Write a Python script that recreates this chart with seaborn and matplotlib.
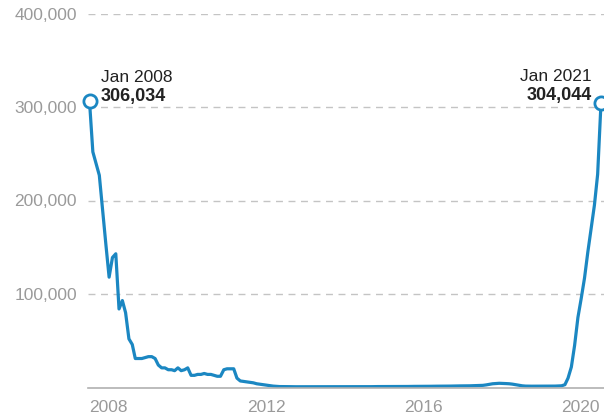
import numpy as np
import pandas as pd
import matplotlib
matplotlib.use("Agg")
import matplotlib.pyplot as plt
import seaborn as sns

# ---- data (monthly, Jan 2008 - Jan 2021) ----
start_month = "2008-01-01"
values = [
    # 2008
    306034, 252000, 240000, 227000, 190000, 153000, 118000, 139000, 143000, 84000, 93000, 80000,
    # 2009
    52000, 46000, 31000, 31000, 31000, 32000, 33000, 33000, 31000, 24000, 21000, 21000,
    # 2010
    19000, 19000, 18000, 21000, 18000, 19000, 21000, 13000, 13000, 14000, 14000, 15000,
    # 2011
    14000, 14000, 13000, 12000, 12000, 19000, 20000, 20000, 20000, 10000, 7000, 6500,
    # 2012
    6000, 5500, 5000, 4000, 3500, 3000, 2500, 2000, 1500, 1200, 1000, 1000,
    # 2013
    900, 900, 800, 800, 800, 800, 800, 800, 800, 800, 800, 800,
    # 2014
    800, 800, 800, 800, 800, 900, 900, 900, 900, 900, 900, 900,
    # 2015
    900, 900, 900, 1000, 1000, 1000, 1000, 1000, 1000, 1000, 1100, 1100,
    # 2016
    1100, 1100, 1200, 1200, 1200, 1300, 1300, 1300, 1300, 1400, 1400, 1400,
    # 2017
    1500, 1500, 1500, 1600, 1600, 1700, 1700, 1800, 1800, 1900, 2000, 2000,
    # 2018
    2300, 2800, 3400, 4000, 4300, 4500, 4400, 4200, 4000, 3600, 3000, 2400,
    # 2019
    1800, 1500, 1400, 1400, 1400, 1400, 1400, 1500, 1500, 1500, 1500, 1600,
    # 2020
    1800, 3000, 10000, 22000, 45000, 75000, 95000, 117000, 145000, 170000, 195000, 228000,
    # Jan 2021
    304044,
]
y_ticks = [100000, 200000, 300000, 400000]
y_tick_labels = ["100,000", "200,000", "300,000", "400,000"]
x_tick_years = [2008, 2012, 2016, 2020]
start_label = ("Jan 2008", "306,034")
end_label = ("Jan 2021", "304,044")

dates = pd.date_range(start_month, periods=len(values), freq="MS")
df = pd.DataFrame({"date": dates, "value": values})

# ---- style ----
sns.set_theme(style="white")
plt.rcParams["font.family"] = ["Liberation Sans", "DejaVu Sans"]

LINE = "#1b87c2"
GRID = "#c4c4c4"
TICK = "#9a9a9a"

fig = plt.figure(figsize=(6.04, 4.20), dpi=100)
ax = fig.add_axes([88 / 604, 32.5 / 420, 516 / 604, 374 / 420])

sns.lineplot(data=df, x="date", y="value", ax=ax, color=LINE, linewidth=2.3)

# endpoint markers
ends = df.iloc[[0, -1]]
ax.plot(ends["date"], ends["value"], "o", ms=9.5, mfc="white", mec=LINE, mew=2.0,
        clip_on=False, zorder=5)

ax.set_ylim(0, 400000)
ax.set_xlim(dates[0] - pd.Timedelta(days=14), dates[-1] + pd.Timedelta(days=28))

ax.set_yticks(y_ticks)
ax.set_yticklabels(y_tick_labels)
ax.tick_params(axis="y", length=0, pad=8, labelsize=12.5, labelcolor=TICK)
for yt in y_ticks:
    ax.axhline(yt, color=GRID, lw=1.0, ls=(0, (5, 4)), zorder=0)

xt = [pd.Timestamp(f"{y}-01-01") for y in x_tick_years]
ax.set_xticks(xt)
ax.set_xticklabels([str(y) for y in x_tick_years])
ax.tick_params(axis="x", length=0, pad=9, labelsize=12.5, labelcolor=TICK)
for lbl in ax.get_xticklabels():
    lbl.set_horizontalalignment("left")

for s in ["top", "right", "left"]:
    ax.spines[s].set_visible(False)
ax.spines["bottom"].set_color("#b0b0b0")
ax.spines["bottom"].set_linewidth(1.2)
ax.set_xlabel("")
ax.set_ylabel("")
ax.grid(False)

# annotations
ax.annotate(start_label[0], (ends["date"].iloc[0], ends["value"].iloc[0]),
            xytext=(11, 19), textcoords="offset pixels", ha="left", va="baseline",
            fontsize=12.5, color="#222222")
ax.annotate(start_label[1], (ends["date"].iloc[0], ends["value"].iloc[0]),
            xytext=(11, 0), textcoords="offset pixels", ha="left", va="baseline",
            fontsize=13, fontweight="bold", color="#222222")
ax.annotate(end_label[0], (ends["date"].iloc[1], ends["value"].iloc[1]),
            xytext=(-9, 22), textcoords="offset pixels", ha="right", va="baseline",
            fontsize=12.5, color="#222222")
ax.annotate(end_label[1], (ends["date"].iloc[1], ends["value"].iloc[1]),
            xytext=(-9, 3), textcoords="offset pixels", ha="right", va="baseline",
            fontsize=13, fontweight="bold", color="#222222")

fig.savefig("out.png", dpi=100)
